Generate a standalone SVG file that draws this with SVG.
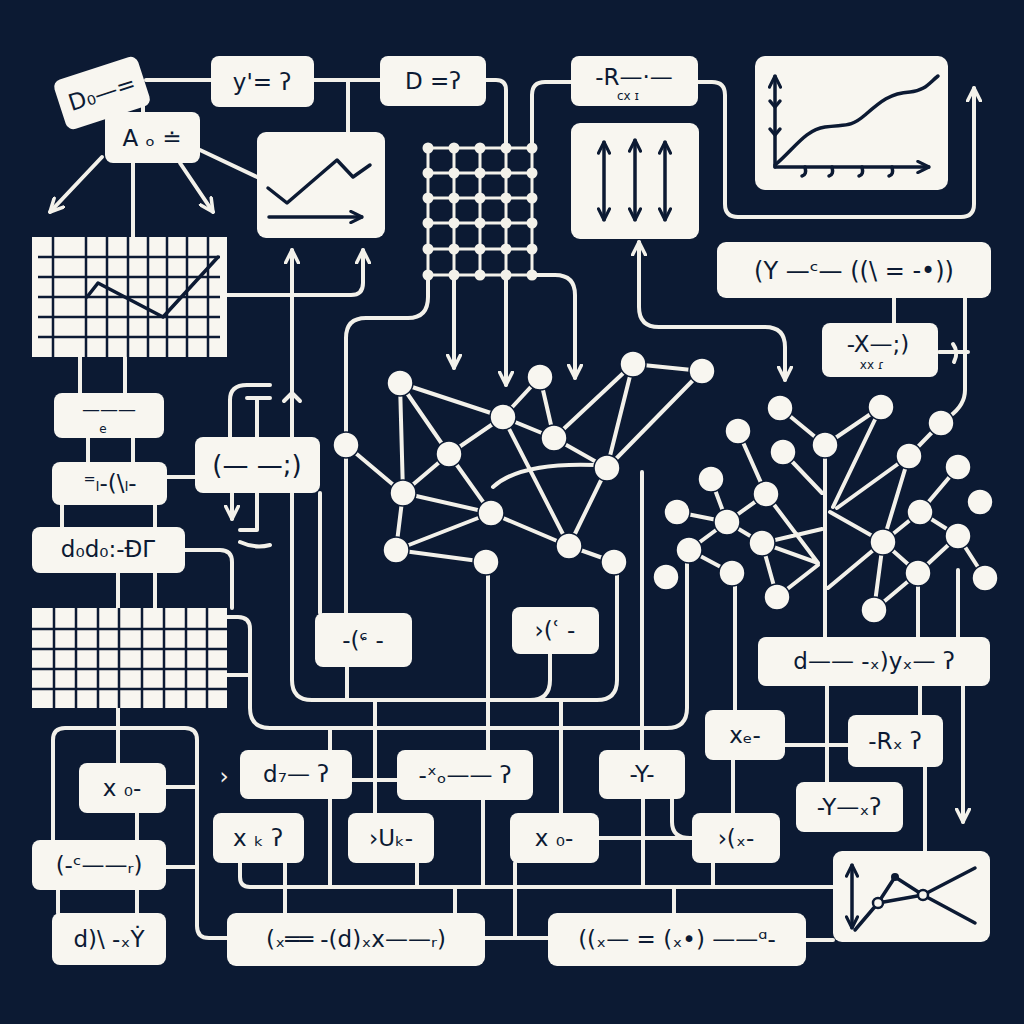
<svg xmlns="http://www.w3.org/2000/svg" width="1024" height="1024" viewBox="0 0 1024 1024">
<defs>
<style>
.c{fill:none;stroke:#f3f1ea;stroke-width:4;stroke-linecap:round;stroke-linejoin:round}
.b{fill:#f8f6f0}
.n{fill:#f8f6f0;stroke:#0c1a33;stroke-width:1.5}
.t{font-family:"DejaVu Sans","Liberation Sans",sans-serif;font-size:23px;fill:#0c1a33;text-anchor:middle;dominant-baseline:central}
.s{font-size:12px}
.d{fill:none;stroke:#0c1a33;stroke-width:3.5;stroke-linecap:round;stroke-linejoin:round}
.g{fill:none;stroke:#0c1a33;stroke-width:2.5}
.lt{stroke:#f3f1ea;stroke-width:3}
.ld{fill:#f3f1ea}
</style>
<marker id="a" viewBox="0 0 10 10" refX="9" refY="5" markerWidth="16" markerHeight="16" markerUnits="userSpaceOnUse" orient="auto-start-reverse"><path d="M1,1 L9,5 L1,9" fill="none" stroke="#f3f1ea" stroke-width="2.2" stroke-linecap="round" stroke-linejoin="round"/></marker>
<marker id="ad" viewBox="0 0 10 10" refX="9" refY="5" markerWidth="14" markerHeight="14" markerUnits="userSpaceOnUse" orient="auto-start-reverse"><path d="M1,1 L9,5 L1,9" fill="none" stroke="#0c1a33" stroke-width="2.2" stroke-linecap="round" stroke-linejoin="round"/></marker>
</defs>
<rect width="1024" height="1024" fill="#0c1a33"/>

<g id="connectors">
<path class="c" d="M146,80 H211 M314,80 H380 M486,80 H496 Q506,80 506,90 V148 M348,80 V132 M143,105 V112"/>
<path class="c" d="M102,157 L50,212" marker-end="url(#a)"/>
<path class="c" d="M180,163 L213,212" marker-end="url(#a)"/>
<path class="c" d="M133,163 V237 M200,150 L257,177"/>
<path class="c" d="M227,295 H351 Q363,295 363,283 V250" marker-end="url(#a)"/>
<path class="c" d="M617,562 V680 Q617,700 597,700 H312 Q292,700 292,680 V250" marker-end="url(#a)"/>
<path class="c" d="M284,401 L292,393 L300,401"/>
<path class="c" d="M550,654 V680 Q550,700 530,700"/>
<path class="c" d="M428,275 V297 Q428,318 408,318 H366 Q346,318 346,338 V613"/>
<path class="c" d="M454,275 V368" marker-end="url(#a)"/>
<path class="c" d="M506,275 V385" marker-end="url(#a)"/>
<path class="c" d="M532,275 H555 Q575,275 575,295 V378" marker-end="url(#a)"/>
<path class="c" d="M571,82 H545 Q532,82 532,95 V148"/>
<path class="c" d="M698,82 H712 Q725,82 725,95 V204 Q725,217 738,217 H961 Q974,217 974,204 V88" marker-end="url(#a)"/>
<path class="c" d="M639,242 V307 Q639,327 659,327 H765 Q785,327 785,347 V380" marker-start="url(#a)" marker-end="url(#a)"/>
<path class="c" d="M894,298 V323 M965,298 V390 Q965,405 950,416 M939,352 H968 M953,344 Q959,352 954,362"/>
<path class="c" d="M80,357 V393 M125,357 V393 M88,438 V462 M133,438 V462 M62,505 V527 M155,505 V527 M118,573 V608 M155,573 V608 M167,477 H195"/>
<path class="c" d="M185,550 H220 Q232,550 232,562 V608"/>
<path class="c" d="M230,437 V400 Q230,385 247,385 H270 M247,398 H270 M257,398 V437 M257,493 V530 H240 M240,542 Q255,549 270,545"/>
<path class="c" d="M232,493 V519" marker-end="url(#a)"/>
<path class="c" d="M320,493 V613"/>
<path class="c" d="M227,617 H238 Q250,617 250,629 V708 Q250,728 270,728 H667 Q687,728 687,708 V562 M227,675 H250"/>
<path class="c" d="M118,708 V763 M53,840 V740 Q53,728 65,728 H185 Q197,728 197,740 V926 Q197,938 209,938 H227 M166,787 H197 M166,867 H197 M137,813 V840 M58,890 V913 M137,890 V913"/>
<path class="c" d="M347,667 V700 M330,728 V750 M330,799 V887 M375,700 V813 M488,562 V750 M561,700 V813 M642,472 V750 M352,780 H397"/>
<path class="c" d="M240,863 V877 Q240,887 250,887 H833 M285,863 V913 M417,863 V887 M483,799 V887 M455,887 V913 M643,799 V887 M713,863 V887 M674,887 V913"/>
<path class="c" d="M485,938 H548 M806,940 H833 M515,863 V938 H548 M599,838 H692 M672,799 V822 Q672,838 690,838 M733,760 V813 M785,745 H848 M827,686 V782 M920,686 V715 M925,767 V851"/>
<path class="c" d="M963,686 V822" marker-end="url(#a)"/>
<path class="c" d="M735,585 V710 M825,445 V637 M918,573 V637 M958,570 V637"/>
<path class="c" d="M400,383 L503,417 M400,383 L449,454 M400,383 L403,493 M346,445 L403,493 M503,417 L540,377 M503,417 L449,454 M503,417 L554,438 M503,417 L569,546 M540,377 L554,438 M449,454 L403,493 M449,454 L491,513 M403,493 L491,513 M403,493 L396,550 M491,513 L396,550 M396,550 L486,562 M491,513 L569,546 M569,546 L614,562 M569,546 L607,468 M554,438 L607,468 M554,438 L633,364 M633,364 L702,371 M702,371 L607,468 M633,364 L607,468 M493,487 Q520,462 596,465"/>
<path class="c" d="M780,408 L825,445 M825,445 L881,407 M941,423 L909,456 M783,452 L822,493 M881,407 L833,507 M909,456 L837,508 M830,512 L883,542 M883,542 L909,456 M883,542 L920,512 M920,512 L958,467 M920,512 L958,536 M883,542 L918,573 M918,573 L958,536 M958,536 L985,578 M883,542 L874,610 M874,610 L918,573 M883,542 L828,588 M738,431 L766,494 M711,479 L727,522 M766,494 L727,522 M677,512 L727,522 M727,522 L762,543 M727,522 L689,550 M689,550 L732,573 M766,494 L818,563 M762,543 L822,529 M762,543 L818,563 M762,543 L777,597 M777,597 L818,565"/>
</g>

<g id="lattice">
<path class="lt" d="M427,148 H533 M427,173 H533 M427,198 H533 M427,223 H533 M427,249 H533 M427,275 H533 M428,147 V276 M454,147 V276 M480,147 V276 M506,147 V276 M532,147 V276"/>
<g class="ld">
<circle cx="428" cy="148" r="5.5"/><circle cx="454" cy="148" r="5.5"/><circle cx="480" cy="148" r="5.5"/><circle cx="506" cy="148" r="5.5"/><circle cx="532" cy="148" r="5.5"/>
<circle cx="428" cy="173" r="5.5"/><circle cx="454" cy="173" r="5.5"/><circle cx="480" cy="173" r="5.5"/><circle cx="506" cy="173" r="5.5"/><circle cx="532" cy="173" r="5.5"/>
<circle cx="428" cy="198" r="5.5"/><circle cx="454" cy="198" r="5.5"/><circle cx="480" cy="198" r="5.5"/><circle cx="506" cy="198" r="5.5"/><circle cx="532" cy="198" r="5.5"/>
<circle cx="428" cy="223" r="5.5"/><circle cx="454" cy="223" r="5.5"/><circle cx="480" cy="223" r="5.5"/><circle cx="506" cy="223" r="5.5"/><circle cx="532" cy="223" r="5.5"/>
<circle cx="428" cy="249" r="5.5"/><circle cx="454" cy="249" r="5.5"/><circle cx="480" cy="249" r="5.5"/><circle cx="506" cy="249" r="5.5"/><circle cx="532" cy="249" r="5.5"/>
<circle cx="428" cy="275" r="5.5"/><circle cx="454" cy="275" r="5.5"/><circle cx="480" cy="275" r="5.5"/><circle cx="506" cy="275" r="5.5"/><circle cx="532" cy="275" r="5.5"/>
</g>
</g>

<g id="graph-nodes">
<circle class="n" cx="400" cy="383" r="13"/><circle class="n" cx="346" cy="445" r="13"/><circle class="n" cx="503" cy="417" r="13"/><circle class="n" cx="540" cy="377" r="13"/><circle class="n" cx="449" cy="454" r="13"/><circle class="n" cx="554" cy="438" r="13"/><circle class="n" cx="633" cy="364" r="13"/><circle class="n" cx="702" cy="371" r="13"/><circle class="n" cx="607" cy="468" r="13"/><circle class="n" cx="403" cy="493" r="13"/><circle class="n" cx="491" cy="513" r="13"/><circle class="n" cx="396" cy="550" r="13"/><circle class="n" cx="486" cy="562" r="13"/><circle class="n" cx="569" cy="546" r="13"/><circle class="n" cx="614" cy="562" r="13"/>
<circle class="n" cx="780" cy="408" r="13"/><circle class="n" cx="881" cy="407" r="13"/><circle class="n" cx="941" cy="423" r="13"/><circle class="n" cx="738" cy="431" r="13"/><circle class="n" cx="783" cy="452" r="13"/><circle class="n" cx="825" cy="445" r="13"/><circle class="n" cx="909" cy="456" r="13"/><circle class="n" cx="958" cy="467" r="13"/><circle class="n" cx="711" cy="479" r="13"/><circle class="n" cx="766" cy="494" r="13"/><circle class="n" cx="920" cy="512" r="13"/><circle class="n" cx="980" cy="502" r="13"/><circle class="n" cx="677" cy="512" r="13"/><circle class="n" cx="727" cy="522" r="13"/><circle class="n" cx="762" cy="543" r="13"/><circle class="n" cx="883" cy="542" r="13"/><circle class="n" cx="958" cy="536" r="13"/><circle class="n" cx="689" cy="550" r="13"/><circle class="n" cx="666" cy="577" r="13"/><circle class="n" cx="732" cy="573" r="13"/><circle class="n" cx="918" cy="573" r="13"/><circle class="n" cx="985" cy="578" r="13"/><circle class="n" cx="777" cy="597" r="13"/><circle class="n" cx="874" cy="610" r="13"/>
</g>

<g id="n-d0"><g transform="rotate(-18 102 93)"><rect class="b" x="58" y="67" width="88" height="52" rx="8"/><text class="t" x="102" y="93">D₀—=</text></g></g>
<g id="n-a"><rect class="b" x="105" y="112" width="95" height="51" rx="8"/><text class="t" x="152" y="138">A ₒ ≐</text></g>
<g id="n-y"><rect class="b" x="211" y="56" width="103" height="51" rx="8"/><text class="t" x="262" y="82">y'= ʔ</text></g>
<g id="n-d"><rect class="b" x="380" y="56" width="106" height="50" rx="8"/><text class="t" x="433" y="81">D =ʔ</text></g>
<g id="n-r"><rect class="b" x="571" y="56" width="127" height="50" rx="8"/><text class="t" x="634" y="77">-R—·—</text><text class="t s" x="628" y="96">cx  ɪ</text></g>
<g id="n-arrows"><rect class="b" x="571" y="123" width="128" height="116" rx="9"/>
<path class="d" d="M604,142 V220" marker-start="url(#ad)" marker-end="url(#ad)"/>
<path class="d" d="M635,140 V220" marker-start="url(#ad)" marker-end="url(#ad)"/>
<path class="d" d="M665,142 V220" marker-start="url(#ad)" marker-end="url(#ad)"/></g>
<g id="n-curvechart"><rect class="b" x="755" y="56" width="193" height="134" rx="10"/>
<path class="d" d="M775,167 V76" marker-end="url(#ad)"/>
<path class="d" d="M775,167 H929" marker-end="url(#ad)"/>
<path class="d" d="M770,101 L775,107 L780,101 M770,129 L775,135 L780,129 M805,167 Q807,175 802,176 M832,167 Q834,175 829,176 M862,167 Q864,175 859,176 M892,167 Q894,175 889,176"/>
<path class="d" d="M775,165 C795,148 805,130 825,127 C845,124 850,128 865,115 C880,102 890,93 910,92 C925,91 930,82 938,76"/></g>
<g id="n-zigchart"><rect class="b" x="257" y="132" width="128" height="106" rx="9"/>
<path class="d" d="M268,188 L287,203 L337,160 L353,177 L370,165"/>
<path class="d" d="M269,217 H362" marker-end="url(#ad)"/></g>
<g id="n-gridchart"><rect class="b" x="32" y="237" width="195" height="120"/>
<path class="g" d="M53,237 V357 M86,237 V357 M107,237 V357 M128,237 V357 M148,237 V357 M167,237 V357 M187,237 V357 M208,237 V357 M38,257 H220 M38,277 H220 M38,297 H220 M38,317 H220 M38,337 H220"/>
<path class="d" d="M87,297 L98,283 L163,317 L218,257"/></g>
<g id="n-yexpr"><rect class="b" x="717" y="242" width="274" height="56" rx="9"/><text class="t" x="854" y="271" style="font-size:24px">(Y —ᶜ— ((\ = -•))</text></g>
<g id="n-x1"><rect class="b" x="822" y="323" width="116" height="54" rx="8"/><text class="t" x="878" y="344">-X—;)</text><text class="t s" x="872" y="365">xx  ɾ</text></g>
<g id="n-e"><rect class="b" x="54" y="393" width="110" height="45" rx="8"/><text class="t" x="109" y="408" style="font-size:18px">———</text><text class="t s" x="103" y="429">e</text></g>
<g id="n-l"><rect class="b" x="52" y="462" width="115" height="43" rx="8"/><text class="t" x="110" y="483">⁼ₗ-(\ₗ-</text></g>
<g id="n-d0d0"><rect class="b" x="32" y="527" width="153" height="46" rx="8"/><text class="t" x="108" y="549">d₀d₀:-ÐΓ</text></g>
<g id="n-paren"><rect class="b" x="195" y="437" width="125" height="56" rx="8"/><text class="t" x="257" y="465" style="font-size:26px">(— —;)</text></g>
<g id="n-cells"><rect class="b" x="32" y="608" width="195" height="100"/>
<path class="g" d="M54,608 V708 M76,608 V708 M98,608 V708 M119,608 V708 M142,608 V708 M164,608 V708 M186,608 V708 M207,608 V708 M32,629 H227 M32,649 H227 M32,669 H227 M32,689 H227"/></g>
<g id="n-c1"><rect class="b" x="315" y="613" width="97" height="54" rx="8"/><text class="t" x="363" y="640">-(ᶝ -</text></g>
<g id="n-c2"><rect class="b" x="512" y="607" width="87" height="47" rx="8"/><text class="t" x="555" y="630">›(ʿ -</text></g>
<g id="n-dy"><rect class="b" x="758" y="637" width="232" height="49" rx="8"/><text class="t" x="874" y="661">d——  -ₓ)yₓ— ʔ</text></g>
<g id="n-x0a"><rect class="b" x="79" y="763" width="87" height="50" rx="8"/><text class="t" x="122" y="788">x ₀-</text></g>
<g id="n-pc"><rect class="b" x="32" y="840" width="134" height="50" rx="8"/><text class="t" x="99" y="865">(-ᶜ——ᵣ)</text></g>
<g id="n-dy2"><rect class="b" x="52" y="913" width="114" height="52" rx="8"/><text class="t" x="109" y="939">d)\ -ₓẎ</text></g>
<g id="n-d7"><rect class="b" x="240" y="750" width="112" height="49" rx="8"/><text class="t" x="296" y="774">d₇— ʔ</text></g>
<text class="t" x="224" y="776" style="fill:#f3f1ea">›</text>
<g id="n-x0b"><rect class="b" x="397" y="750" width="136" height="50" rx="8"/><text class="t" x="465" y="775">-ˣₒ—— ʔ</text></g>
<g id="n-xk"><rect class="b" x="213" y="813" width="91" height="50" rx="8"/><text class="t" x="258" y="838">x ₖ ʔ</text></g>
<g id="n-uk"><rect class="b" x="348" y="813" width="86" height="50" rx="8"/><text class="t" x="391" y="838">›Uₖ-</text></g>
<g id="n-long1"><rect class="b" x="227" y="913" width="258" height="53" rx="9"/><text class="t" x="356" y="939">(ₓ══ -(d)ₓx——ᵣ)</text></g>
<g id="n-y1"><rect class="b" x="599" y="750" width="86" height="49" rx="8"/><text class="t" x="642" y="774">-Y-</text></g>
<g id="n-x0c"><rect class="b" x="510" y="813" width="89" height="50" rx="8"/><text class="t" x="554" y="838">x ₀-</text></g>
<g id="n-px"><rect class="b" x="692" y="813" width="88" height="50" rx="8"/><text class="t" x="736" y="838">›(ₓ-</text></g>
<g id="n-xa"><rect class="b" x="705" y="710" width="80" height="50" rx="8"/><text class="t" x="745" y="735">xₑ-</text></g>
<g id="n-rx"><rect class="b" x="848" y="715" width="95" height="52" rx="8"/><text class="t" x="895" y="741">-Rₓ ʔ</text></g>
<g id="n-yx"><rect class="b" x="796" y="782" width="107" height="50" rx="8"/><text class="t" x="849" y="807">-Y—ₓʔ</text></g>
<g id="n-long2"><rect class="b" x="548" y="913" width="258" height="53" rx="9"/><text class="t" x="677" y="939">((ₓ— = (ₓ•) ——ᵅ-</text></g>
<g id="n-brchart"><rect class="b" x="833" y="851" width="157" height="91" rx="9"/>
<path class="d" d="M852,865 V928" marker-start="url(#ad)" marker-end="url(#ad)"/>
<path class="d" d="M855,930 L878,903 L895,877 L923,895 L975,923 M878,903 L923,895 M923,895 L975,868"/>
<circle cx="895" cy="877" r="4" fill="#0c1a33"/>
<circle cx="878" cy="903" r="5" fill="#f8f6f0" stroke="#0c1a33" stroke-width="2.5"/>
<circle cx="923" cy="895" r="5" fill="#f8f6f0" stroke="#0c1a33" stroke-width="2.5"/></g>
</svg>
